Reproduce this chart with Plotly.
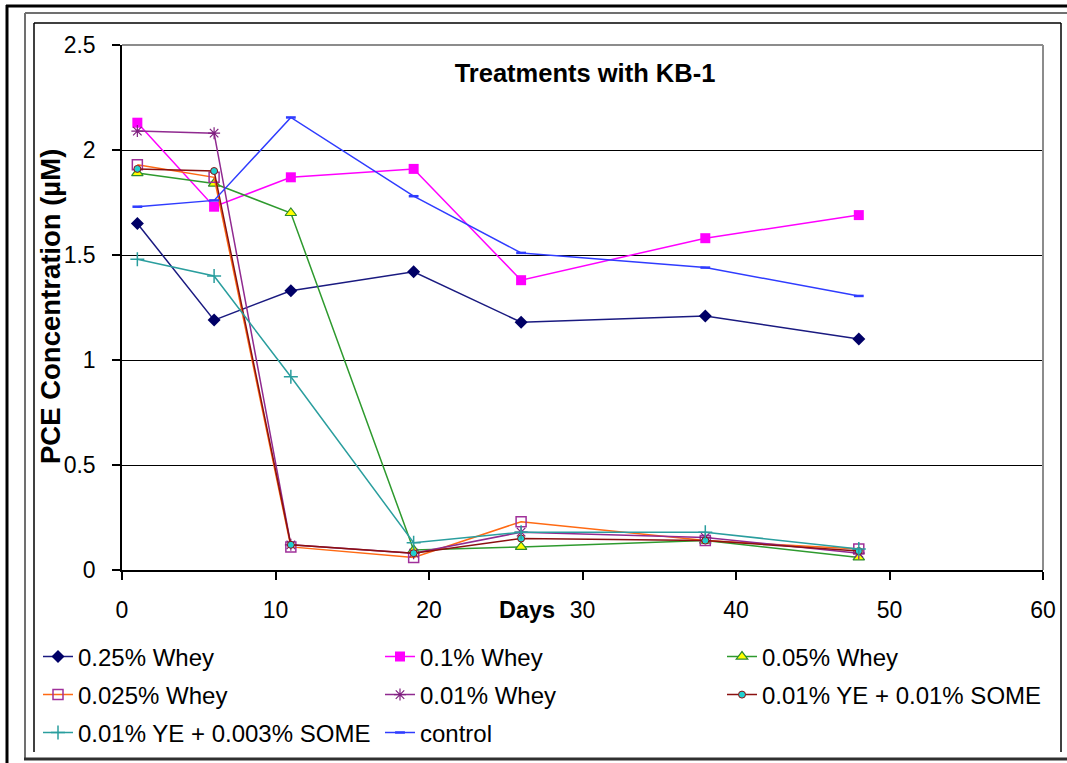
import plotly.graph_objects as go

days = [1, 6, 11, 19, 26, 38, 48]
whey_025 = [1.65, 1.19, 1.33, 1.42, 1.18, 1.21, 1.10]
whey_01 = [2.13, 1.73, 1.87, 1.91, 1.38, 1.58, 1.69]
whey_005 = [1.89, 1.84, 1.70, 0.095, 0.11, 0.14, 0.06]
whey_0025 = [1.93, 1.87, 0.11, 0.06, 0.23, 0.14, 0.10]
whey_001 = [2.09, 2.08, 0.12, 0.08, 0.18, 0.155, 0.08]
ye_some_001 = [1.91, 1.90, 0.12, 0.08, 0.15, 0.14, 0.09]
ye_some_0003 = [1.48, 1.40, 0.92, 0.13, 0.18, 0.18, 0.10]
control = [1.73, 1.76, 2.155, 1.78, 1.51, 1.44, 1.305]

x_ticks = [0, 10, 20, 30, 40, 50, 60]
y_ticks = [0, 0.5, 1, 1.5, 2, 2.5]

FONT = "Arial, Liberation Sans, sans-serif"

series = [
    ("0.25% Whey", whey_025, "#1a1a80", dict(symbol="diamond", size=10, color="#000066"), "legend"),
    ("0.1% Whey", whey_01, "#ff00ff", dict(symbol="square", size=10, color="#ff00ff"), "legend"),
    ("0.05% Whey", whey_005, "#2e9a2e", dict(symbol="triangle-up", size=10, color="#ffff00",
                                             line=dict(color="#2e8b2e", width=1.2)), "legend"),
    ("0.025% Whey", whey_0025, "#ff6a13", dict(symbol="square-open", size=10, color="#a0309a",
                                               line=dict(width=1.5)), "legend2"),
    ("0.01% Whey", whey_001, "#902a90", dict(symbol="asterisk-open", size=10, color="#802080",
                                             line=dict(color="#802080", width=1.2)), "legend2"),
    ("0.01% YE + 0.01% SOME", ye_some_001, "#8b1010", dict(symbol="circle", size=7, color="#20d0d0",
                                                           line=dict(color="#8b1010", width=1)), "legend2"),
    ("0.01% YE + 0.003% SOME", ye_some_0003, "#2a9e9e", dict(symbol="cross-thin-open", size=10, color="#2a9e9e",
                                                             line=dict(color="#2a9e9e", width=1.5)), "legend3"),
    ("control", control, "#2f3cff", dict(symbol="line-ew-open", size=7, color="#2f3cff",
                                         line=dict(color="#2f3cff", width=2.5)), "legend3"),
]

fig = go.Figure()
for name, vals, col, mk, lg in series:
    fig.add_trace(go.Scatter(x=days, y=vals, name=name, mode="lines+markers",
                             line=dict(color=col, width=1.5), marker=mk, legend=lg))

# layout geometry (pixels)
W, H = 1067, 763
L, R, T, B = 122, 1043, 45, 570
pw, ph = R - L, B - T


def px(xp):
    return (xp - L) / pw


def py(yp):
    return (B - yp) / ph


leg_common = dict(orientation="h", xanchor="left", yanchor="middle",
                  entrywidth=297, entrywidthmode="pixels",
                  font=dict(family=FONT, size=24, color="black"),
                  bgcolor="rgba(0,0,0,0)", itemclick=False)

shapes = []
# outer frames
line_k = dict(color="black", width=3)
shapes.append(dict(type="line", xref="paper", yref="paper", x0=px(6), x1=px(1070), y0=py(6), y1=py(6), line=line_k))
shapes.append(dict(type="line", xref="paper", yref="paper", x0=px(7), x1=px(7), y0=py(5), y1=py(766), line=line_k))
line_g = dict(color="#707070", width=2)
shapes.append(dict(type="line", xref="paper", yref="paper", x0=px(25), x1=px(1070), y0=py(13), y1=py(13), line=line_g))
shapes.append(dict(type="line", xref="paper", yref="paper", x0=px(25), x1=px(25), y0=py(13), y1=py(759), line=line_g))
shapes.append(dict(type="line", xref="paper", yref="paper", x0=px(24), x1=px(1070), y0=py(759), y1=py(759),
                   line=dict(color="#303030", width=3)))
line_t = dict(color="black", width=1.5)
shapes.append(dict(type="line", xref="paper", yref="paper", x0=px(34), x1=px(1061), y0=py(23), y1=py(23), line=line_t))
shapes.append(dict(type="line", xref="paper", yref="paper", x0=px(34), x1=px(34), y0=py(23), y1=py(752), line=line_t))
shapes.append(dict(type="line", xref="paper", yref="paper", x0=px(1061), x1=px(1061), y0=py(23), y1=py(752), line=line_t))
# plot area top / right border (gray)
shapes.append(dict(type="line", xref="paper", yref="paper", x0=0, x1=1, y0=1, y1=1,
                   line=dict(color="#8c8c8c", width=2)))
shapes.append(dict(type="line", xref="paper", yref="paper", x0=1, x1=1, y0=0, y1=1,
                   line=dict(color="#8c8c8c", width=2)))

fig.update_layout(
    width=W, height=H,
    margin=dict(l=L, r=W - R, t=T, b=H - B, autoexpand=False),
    paper_bgcolor="white", plot_bgcolor="white",
    font=dict(family=FONT, size=23, color="black"),
    title=dict(text="<b>Treatments with KB-1</b>", x=585 / W, xref="container", xanchor="center",
               y=1 - 73 / H, yref="container", yanchor="middle",
               font=dict(family=FONT, size=25.5, color="black")),
    xaxis=dict(range=[0, 60], tickvals=x_ticks, ticks="outside", ticklen=8, tickcolor="black",
               tickwidth=1.5, showline=True, linecolor="black", linewidth=1.5, showgrid=False,
               zeroline=False, ticklabelstandoff=11, tickfont=dict(size=23)),
    yaxis=dict(range=[0, 2.5], tickvals=y_ticks, ticks="outside", ticklen=8, tickcolor="black",
               tickwidth=1.5, showline=True, linecolor="black", linewidth=1.5, showgrid=True,
               gridcolor="black", gridwidth=1.3, zeroline=False, ticklabelstandoff=12,
               tickfont=dict(size=23)),
    legend=dict(x=px(38), y=py(657), **leg_common),
    legend2=dict(x=px(38), y=py(695), **leg_common),
    legend3=dict(x=px(38), y=py(733), **leg_common),
    shapes=shapes,
    annotations=[
        dict(text="<b>PCE Concentration (µM)</b>", xref="paper", yref="paper", x=px(50), y=py(307),
             xanchor="center", yanchor="middle", textangle=-90, showarrow=False,
             font=dict(family=FONT, size=27.5, color="black")),
        dict(text="<b>Days</b>", xref="paper", yref="paper", x=px(527), y=py(610),
             xanchor="center", yanchor="middle", showarrow=False,
             font=dict(family=FONT, size=23.5, color="black")),
    ],
)

fig.write_html("out.html", config={"displayModeBar": False},
               post_script="document.body.style.margin='0px';")
